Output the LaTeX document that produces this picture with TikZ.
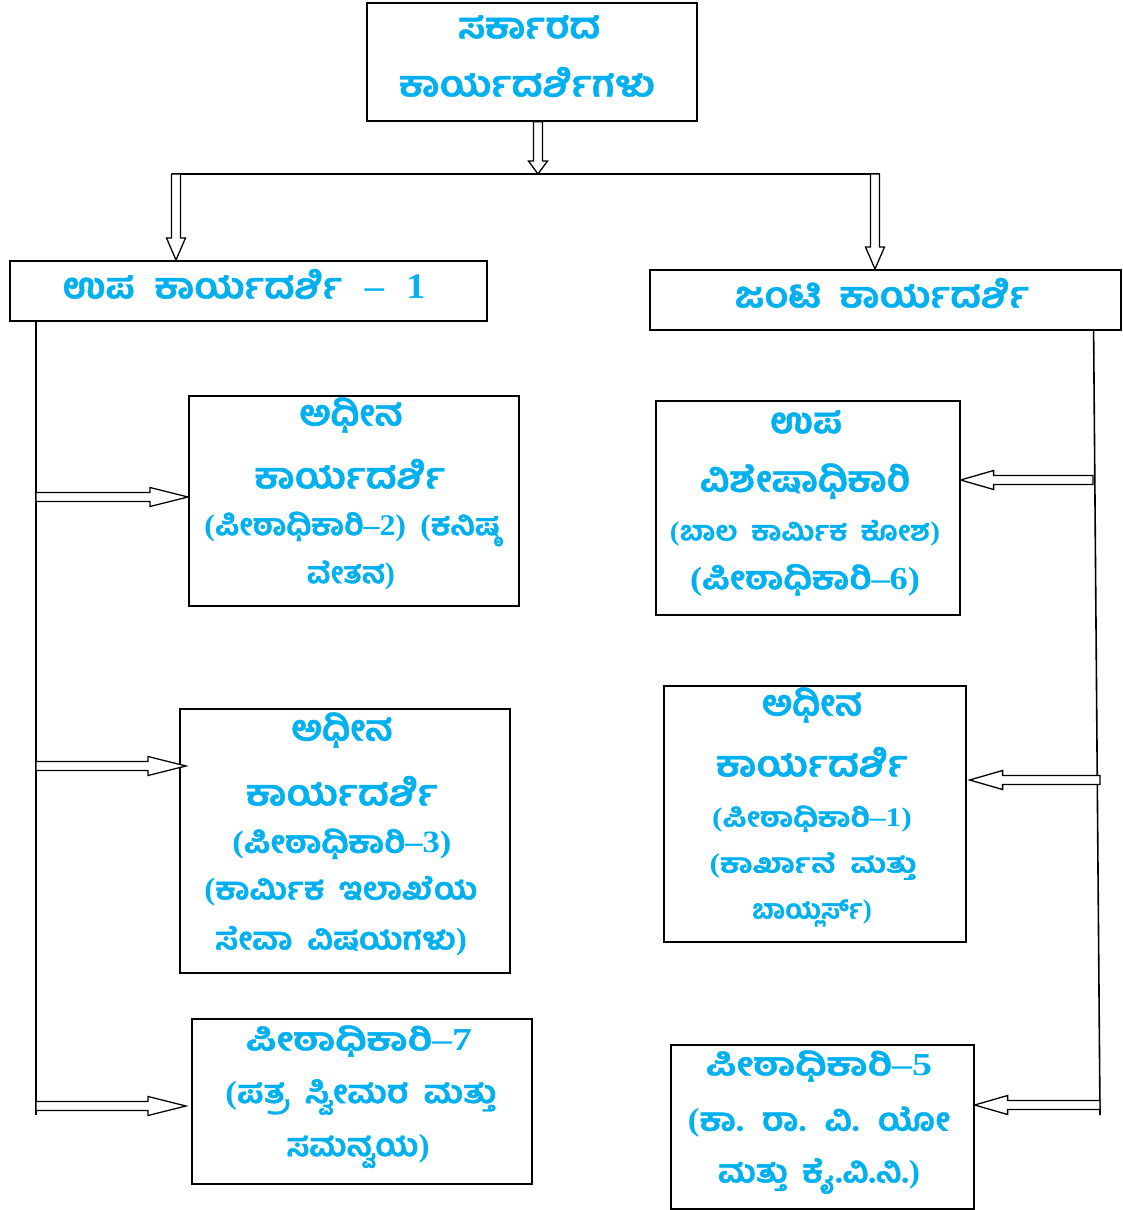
\documentclass[tikz,border=0pt]{standalone}
\usepackage{fontspec}
\usetikzlibrary{calc}
\newfontfamily\kn[Script=Kannada, BoldFeatures={FakeBold=1.2}]{Hind Mysuru}
\newfontfamily\ser{Liberation Serif}
\newcommand{\sr}[1]{{\ser\bfseries #1}}
\newcommand{\fw}[2]{\resizebox{#1pt}{\height}{#2}}
\definecolor{kblue}{HTML}{00B0F0}
\tikzset{
 box/.style={draw=black, line width=1.6pt, fill=white, inner sep=0pt, anchor=north west},
 blk/.style={draw=black, line width=1.3pt, fill=white, line join=miter},
 ln/.style={draw=black, line width=1.6pt},
 tl/.style={text=kblue, align=center, inner sep=0pt, font=\kn\bfseries\fontsize{#1}{#1}\selectfont},
 tl/.default=36
}
\newcommand{\varrow}[3]{%
 \draw[blk] let \p1=(#1), \p2=(#2) in
 (\x1-4.5pt,\y1) -- (\x1-4.5pt,\y2+#3pt) -- (\x1-9.5pt,\y2+#3pt) -- (\x1,\y2) --
 (\x1+9.5pt,\y2+#3pt) -- (\x1+4.5pt,\y2+#3pt) -- (\x1+4.5pt,\y1) -- cycle;}
\newcommand{\rarrow}[3]{%
 \draw[blk] let \p1=(#1), \p2=(#2) in
 (\x1,\y2-4.5pt) -- (\x2-#3pt,\y2-4.5pt) -- (\x2-#3pt,\y2-9.5pt) -- (\x2,\y2) --
 (\x2-#3pt,\y2+9.5pt) -- (\x2-#3pt,\y2+4.5pt) -- (\x1,\y2+4.5pt) -- cycle;}
\newcommand{\larrow}[3]{%
 \draw[blk] let \p1=(#1), \p2=(#2) in
 (\x1,\y2-4.5pt) -- (\x2+#3pt,\y2-4.5pt) -- (\x2+#3pt,\y2-9.5pt) -- (\x2,\y2) --
 (\x2+#3pt,\y2+9.5pt) -- (\x2+#3pt,\y2+4.5pt) -- (\x1,\y2+4.5pt) -- cycle;}
\begin{document}
\begin{tikzpicture}[x=1pt,y=-1pt]
\useasboundingbox (0,0) rectangle (1122,1210);
% boxes
\node[box, minimum width=330, minimum height=118] (top) at (366,2) {};
\node[box, minimum width=477, minimum height=60] (L1) at (9,260) {};
\node[box, minimum width=471, minimum height=60] (R1) at (649,269) {};
\node[box, minimum width=330, minimum height=210] (A) at (188,395) {};
\node[box, minimum width=304, minimum height=214] (B) at (655,400) {};
\node[box, minimum width=330, minimum height=264] (C) at (179,708) {};
\node[box, minimum width=302, minimum height=256] (D) at (663,685) {};
\node[box, minimum width=340, minimum height=165] (E) at (191,1018) {};
\node[box, minimum width=303, minimum height=164] (F) at (670,1044) {};
% connectors
\coordinate (j) at (538,174);
\coordinate (jl) at (176,174);
\coordinate (jr) at (875,174);
\coordinate (ts) at (top.south -| j);
\coordinate (l1n) at (jl |- L1.north);
\coordinate (r1n) at (jr |- R1.north);
\draw[ln] ($(jl)+(-4.5,0)$) -- ($(jr)+(4.5,0)$);
\varrow{ts}{j}{13}
\varrow{jl}{l1n}{22}
\varrow{jr}{r1n}{22}
% left bus
\coordinate (lbt) at ($(L1.south west)+(27,0)$);
\coordinate (lbb) at (36,1115);
\draw[ln] (lbt) -- (lbb);
\coordinate (la) at (36,497);
\coordinate (lc) at (36,766);
\coordinate (le) at (36,1106);
\coordinate (ta) at (A.west |- la);
\coordinate (tc) at ($(C.west |- lc)+(7,0)$);
\coordinate (te) at ($(E.west |- le)+(-5,0)$);
\rarrow{la}{ta}{38}
\rarrow{lc}{tc}{38}
\rarrow{le}{te}{38}
% right bus
\coordinate (rbt) at ($(R1.south east)+(-28,0)$);
\coordinate (rbb) at (1100,1115);
\draw[ln] (rbt) -- (rbb);
\coordinate (rb) at (1093,480);
\coordinate (rd) at (1100,780);
\coordinate (rf) at (1100,1105);
\coordinate (tb) at (B.east |- rb);
\coordinate (td) at ($(D.east |- rd)+(3,0)$);
\coordinate (tf) at (F.east |- rf);
\larrow{rb}{tb}{33}
\larrow{rd}{td}{33}
\larrow{rf}{tf}{33}
% texts
\node[tl] (t1) at (529,27) {\fw{142}{ಸರ್ಕಾರದ}};
\node[tl] (t2) at (527,82) {\fw{256}{ಕಾರ್ಯದರ್ಶಿಗಳು}};
\node[tl] (l1t) at (244,284) {\fw{363}{ಉಪ\hspace{10pt} ಕಾರ್ಯದರ್ಶಿ\hspace{12pt} \sr{–\hspace{12pt} 1}}};
\node[tl] (r1t) at (882,293) {\fw{295}{ಜಂಟಿ\hspace{8pt} ಕಾರ್ಯದರ್ಶಿ}};
\node[tl] (a1) at (351,415) {\fw{103}{ಅಧೀನ}};
\node[tl] (a2) at (350,474) {\fw{191}{ಕಾರ್ಯದರ್ಶಿ}};
\node[tl=30] (a3) at (352,529) {\fw{295}{\sr{(}ಪೀಠಾಧಿಕಾರಿ\sr{–2)}\hspace{6pt} \sr{(}ಕನಿಷ್ಠ}};
\node[tl=30] (a4) at (351,575) {\fw{88}{ವೇತನ\sr{)}}};
\node[tl] (b1) at (806,422) {\fw{72}{ಉಪ}};
\node[tl] (b2) at (805,481) {\fw{210}{ವಿಶೇಷಾಧಿಕಾರಿ}};
\node[tl=27] (b3) at (805,533) {\fw{270}{\sr{(}ಬಾಲ\hspace{6pt} ಕಾರ್ಮಿಕ\hspace{6pt} ಕೋಶ\sr{)}}};
\node[tl=32] (b4) at (805,580) {\fw{230}{\sr{(}ಪೀಠಾಧಿಕಾರಿ\sr{–6)}}};
\node[tl] (c1) at (342,730) {\fw{101}{ಅಧೀನ}};
\node[tl] (c2) at (342,791) {\fw{192}{ಕಾರ್ಯದರ್ಶಿ}};
\node[tl=31] (c3) at (342,844) {\fw{219}{\sr{(}ಪೀಠಾಧಿಕಾರಿ\sr{–3)}}};
\node[tl=31] (c4) at (341,891) {\fw{273}{\sr{(}ಕಾರ್ಮಿಕ\hspace{6pt} ಇಲಾಖೆಯ}};
\node[tl=31] (c5) at (341,941) {\fw{252}{ಸೇವಾ\hspace{6pt} ವಿಷಯಗಳು\sr{)}}};
\node[tl] (d1) at (812,705) {\fw{100}{ಅಧೀನ}};
\node[tl] (d2) at (812,762) {\fw{192}{ಕಾರ್ಯದರ್ಶಿ}};
\node[tl=27] (d3) at (812,819) {\fw{200}{\sr{(}ಪೀಠಾಧಿಕಾರಿ\sr{–1)}}};
\node[tl=27] (d4) at (813,866) {\fw{207}{\sr{(}ಕಾರ್ಖಾನೆ\hspace{6pt} ಮತ್ತು}};
\node[tl=27] (d5) at (812,913) {\fw{120}{ಬಾಯ್ಲರ್ಸ್\sr{)}}};
\node[tl=32] (e1) at (359,1041) {\fw{226}{ಪೀಠಾಧಿಕಾರಿ\sr{–7}}};
\node[tl=32] (e2) at (361,1097) {\fw{271}{\sr{(}ಪತ್ರ\hspace{6pt} ಸ್ವೀಮರ\hspace{6pt} ಮತ್ತು}};
\node[tl=32] (e3) at (358,1151) {\fw{143}{ಸಮನ್ವಯ\sr{)}}};
\node[tl=32] (f1) at (819,1066) {\fw{226}{ಪೀಠಾಧಿಕಾರಿ\sr{–5}}};
\node[tl=32] (f2) at (819,1122) {\fw{262}{\sr{(}ಕಾ.\hspace{6pt} ರಾ.\hspace{6pt} ವಿ.\hspace{6pt} ಯೋ}};
\node[tl=32] (f3) at (819,1176) {\fw{202}{ಮತ್ತು\hspace{6pt} ಕೈ.ವಿ.ನಿ.\sr{)}}};
\end{tikzpicture}
\end{document}
